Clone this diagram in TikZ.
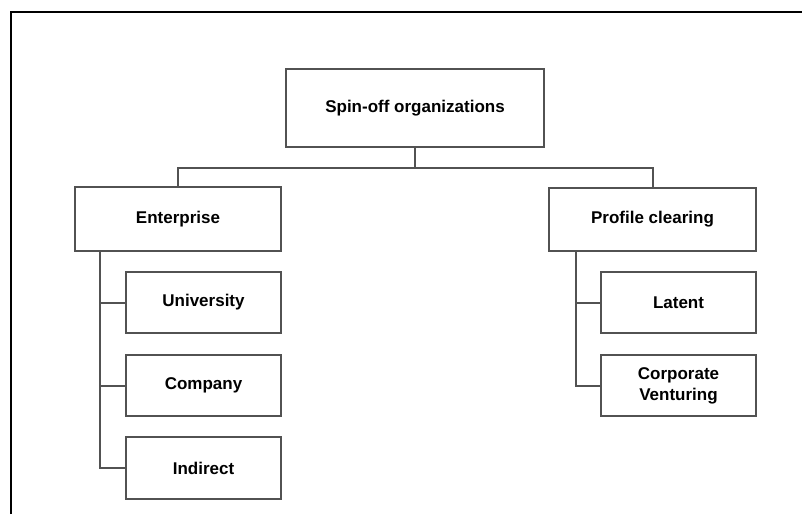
\documentclass[tikz,border=0pt]{standalone}
\usepackage{fontspec}
\setmainfont{Liberation Sans}
\begin{document}
\begin{tikzpicture}[x=1pt,y=-1pt,
  box/.style={draw=black!68,line width=2pt,rectangle,inner sep=0pt,align=center,
    font=\fontsize{17}{21}\selectfont\bfseries,text=black},
  conn/.style={draw=black!68,line width=2pt}]
\useasboundingbox (0,0) rectangle (802,514);
\draw[line width=2.5pt] (11,514) -- (11,12) -- (802,12);
\node[box,minimum width=258pt,minimum height=78pt] (top) at (415,108) {Spin-off organizations};
\node[box,minimum width=206pt,minimum height=64pt] (ent) at (178,219) {Enterprise};
\node[box,minimum width=207pt,minimum height=63pt] (prof) at (652.5,219.5) {Profile clearing};
\node[box,minimum width=155pt,minimum height=61pt] (uni) at (203.5,302.5) {University};
\node[box,minimum width=155pt,minimum height=61pt] (com) at (203.5,385.5) {Company};
\node[box,minimum width=155pt,minimum height=62pt] (ind) at (203.5,468) {Indirect};
\node[box,minimum width=155pt,minimum height=61pt] (lat) at (678.5,302.5) {Latent};
\node[box,minimum width=155pt,minimum height=61pt] (cor) at (678.5,385.5) {Corporate\\Venturing};
\coordinate (bus) at (415,168);
\coordinate (etr) at (100,251);
\coordinate (ptr) at (576,251);
\draw[conn] (top.south) -- (bus);
\draw[conn] (ent.north) |- (bus) -| (prof.north);
\draw[conn] (etr) |- (ind.west);
\draw[conn] (etr) |- (uni.west);
\draw[conn] (etr) |- (com.west);
\draw[conn] (ptr) |- (cor.west);
\draw[conn] (ptr) |- (lat.west);
\end{tikzpicture}
\end{document}
